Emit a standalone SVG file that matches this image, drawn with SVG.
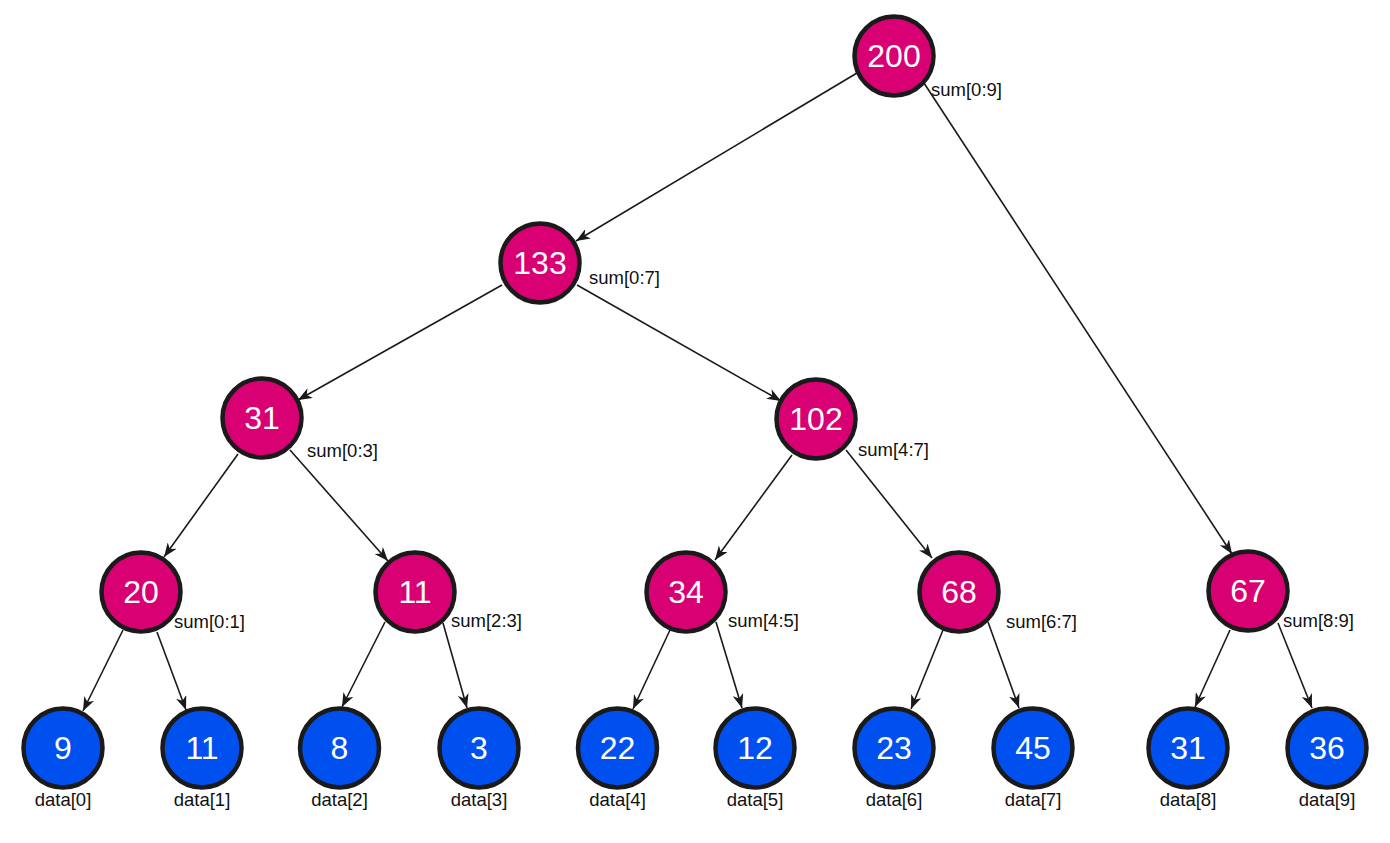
<svg xmlns="http://www.w3.org/2000/svg" width="1390" height="843" viewBox="0 0 1390 843">
<style>
.sum circle{fill:#D80073;stroke:#1A1A1A;stroke-width:4.5}
.leaf circle{fill:#0050EF;stroke:#1A1A1A;stroke-width:4.5}
.num{font-family:"Liberation Sans",Arial,sans-serif;font-size:32px;fill:#FFFFFF;text-anchor:middle}
.lbl{font-family:"Liberation Sans",Arial,sans-serif;font-size:18.5px;fill:#111111}
.dl{text-anchor:middle}
#edges line{stroke:#1A1A1A;stroke-width:1.6;fill:none;marker-end:url(#arr)}
</style>
<defs>
<marker id="arr" markerUnits="userSpaceOnUse" viewBox="0 0 14 11" refX="14" refY="5.5" markerWidth="14" markerHeight="11" orient="auto">
<path d="M0,0 L14,5.5 L0,11 L4,5.5 z" fill="#1A1A1A"/>
</marker>
</defs>
<rect width="1390" height="843" fill="#FFFFFF"/>
<g id="edges">
<line x1="857" y1="73" x2="576" y2="241"/>
<line x1="922" y1="80" x2="1232" y2="554"/>
<line x1="502" y1="285" x2="298" y2="400"/>
<line x1="577" y1="285" x2="781" y2="401"/>
<line x1="238" y1="454" x2="164" y2="557"/>
<line x1="290" y1="450" x2="388" y2="561"/>
<line x1="792" y1="455" x2="715" y2="560"/>
<line x1="846" y1="450" x2="932" y2="558"/>
<line x1="123" y1="630" x2="83" y2="711"/>
<line x1="157" y1="632" x2="186" y2="710"/>
<line x1="385" y1="622" x2="342" y2="707"/>
<line x1="443" y1="623" x2="467" y2="708"/>
<line x1="670" y1="630" x2="633" y2="709"/>
<line x1="716" y1="622" x2="742" y2="708"/>
<line x1="943" y1="630" x2="911" y2="709"/>
<line x1="988" y1="622" x2="1019" y2="708"/>
<line x1="1230" y1="630" x2="1195" y2="707"/>
<line x1="1278" y1="623" x2="1312" y2="708"/>
</g>
<g id="n200" class="sum"><circle cx="894" cy="56" r="39.5"/><text class="num" x="894" y="67">200</text><text class="lbl" x="931" y="96">sum[0:9]</text></g>
<g id="n133" class="sum"><circle cx="540" cy="263" r="39.5"/><text class="num" x="540" y="274">133</text><text class="lbl" x="589" y="284">sum[0:7]</text></g>
<g id="n31" class="sum"><circle cx="262" cy="418" r="39.5"/><text class="num" x="262" y="429">31</text><text class="lbl" x="307" y="457">sum[0:3]</text></g>
<g id="n102" class="sum"><circle cx="816" cy="419" r="39.5"/><text class="num" x="816" y="430">102</text><text class="lbl" x="858" y="456">sum[4:7]</text></g>
<g id="n20" class="sum"><circle cx="141" cy="592" r="39.5"/><text class="num" x="141" y="603">20</text><text class="lbl" x="174" y="628">sum[0:1]</text></g>
<g id="n11" class="sum"><circle cx="415" cy="592" r="39.5"/><text class="num" x="415" y="603">11</text><text class="lbl" x="451" y="627">sum[2:3]</text></g>
<g id="n34" class="sum"><circle cx="686" cy="592" r="39.5"/><text class="num" x="686" y="603">34</text><text class="lbl" x="728" y="627">sum[4:5]</text></g>
<g id="n68" class="sum"><circle cx="959" cy="592" r="39.5"/><text class="num" x="959" y="603">68</text><text class="lbl" x="1006" y="628">sum[6:7]</text></g>
<g id="n67" class="sum"><circle cx="1248" cy="591" r="39.5"/><text class="num" x="1248" y="602">67</text><text class="lbl" x="1283" y="627">sum[8:9]</text></g>
<g id="d0" class="leaf"><circle cx="63" cy="748" r="39.5"/><text class="num" x="63" y="759">9</text><text class="lbl dl" x="63" y="806">data[0]</text></g>
<g id="d1" class="leaf"><circle cx="202" cy="748" r="39.5"/><text class="num" x="202" y="759">11</text><text class="lbl dl" x="202" y="806">data[1]</text></g>
<g id="d2" class="leaf"><circle cx="339.5" cy="748" r="39.5"/><text class="num" x="339.5" y="759">8</text><text class="lbl dl" x="339.5" y="806">data[2]</text></g>
<g id="d3" class="leaf"><circle cx="479" cy="748" r="39.5"/><text class="num" x="479" y="759">3</text><text class="lbl dl" x="479" y="806">data[3]</text></g>
<g id="d4" class="leaf"><circle cx="617.5" cy="748" r="39.5"/><text class="num" x="617.5" y="759">22</text><text class="lbl dl" x="617.5" y="806">data[4]</text></g>
<g id="d5" class="leaf"><circle cx="755" cy="748" r="39.5"/><text class="num" x="755" y="759">12</text><text class="lbl dl" x="755" y="806">data[5]</text></g>
<g id="d6" class="leaf"><circle cx="894" cy="748" r="39.5"/><text class="num" x="894" y="759">23</text><text class="lbl dl" x="894" y="806">data[6]</text></g>
<g id="d7" class="leaf"><circle cx="1033" cy="748" r="39.5"/><text class="num" x="1033" y="759">45</text><text class="lbl dl" x="1033" y="806">data[7]</text></g>
<g id="d8" class="leaf"><circle cx="1188" cy="748" r="39.5"/><text class="num" x="1188" y="759">31</text><text class="lbl dl" x="1188" y="806">data[8]</text></g>
<g id="d9" class="leaf"><circle cx="1327" cy="748" r="39.5"/><text class="num" x="1327" y="759">36</text><text class="lbl dl" x="1327" y="806">data[9]</text></g>
</svg>
